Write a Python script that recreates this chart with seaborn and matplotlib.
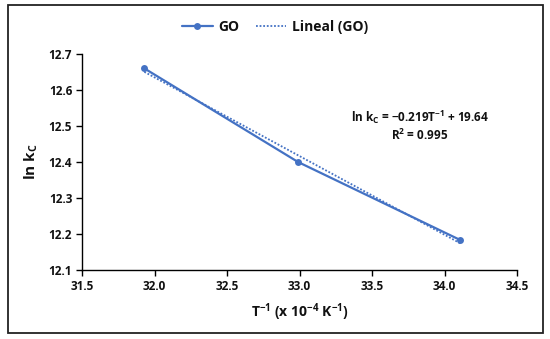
import matplotlib
matplotlib.use("Agg")
import matplotlib.pyplot as plt
from matplotlib.patches import Rectangle
import numpy as np
import seaborn as sns

# data
inv_t = [31.93, 32.99, 34.11]      # T^-1 (x 10^-4 K^-1)
ln_kc = [12.66, 12.40, 12.183]
x_ticks = [31.5, 32.0, 32.5, 33.0, 33.5, 34.0, 34.5]
y_ticks = [12.1, 12.2, 12.3, 12.4, 12.5, 12.6, 12.7]

sns.set_style("white")
plt.rcParams['font.family'] = ['Open Sans', 'DejaVu Sans']
plt.rcParams['font.weight'] = 'bold'
plt.rcParams['mathtext.fontset'] = 'custom'
plt.rcParams['mathtext.rm'] = 'Open Sans'
plt.rcParams['mathtext.bf'] = 'Open Sans:bold'
plt.rcParams['text.color'] = '#111111'
plt.rcParams['axes.labelcolor'] = '#111111'
plt.rcParams['xtick.color'] = '#111111'
plt.rcParams['ytick.color'] = '#111111'

blue = '#4472C4'

fig = plt.figure(figsize=(5.5, 3.39), dpi=100)
ax = fig.add_axes([82 / 550, 1 - 270 / 339, 435 / 550, 216 / 339])

sns.lineplot(x=inv_t, y=ln_kc, ax=ax, color=blue, marker='o', markersize=5,
             markeredgewidth=0, linewidth=1.6, label='GO')

# linear trend line
slope, icpt = np.polyfit(inv_t, ln_kc, 1)
fit_x = np.array([inv_t[0], inv_t[-1]])
sns.lineplot(x=fit_x, y=slope * fit_x + icpt, ax=ax, color=blue,
             linestyle=(0, (1, 1)), linewidth=1.3, label='Lineal (GO)')

ax.set_xlim(31.5, 34.5)
ax.set_ylim(12.1, 12.7)
ax.set_xticks(x_ticks)
ax.set_yticks(y_ticks)
ax.set_xticklabels([f"{v:.1f}" for v in x_ticks], fontweight='bold', fontsize=8.5)
ax.set_yticklabels([f"{v:.1f}" for v in y_ticks], fontweight='bold', fontsize=8.5)
ax.tick_params(axis='both', direction='out', length=4, width=1, color='black',
               left=True, bottom=True, pad=3)
for side in ['top', 'right']:
    ax.spines[side].set_visible(False)
for side in ['left', 'bottom']:
    ax.spines[side].set_color('black')
    ax.spines[side].set_linewidth(1)

ax.set_xlabel(r"T$^{\mathbf{-1}}$ (x 10$^{\mathbf{-4}}$ K$^{\mathbf{-1}}$)",
              fontsize=10, fontweight='bold', labelpad=6)
ax.set_ylabel(r"ln k$_{\mathbf{C}}$", fontsize=11, fontweight='bold', labelpad=6)

ax.text(33.83, 12.50,
        r"ln k$_{\mathbf{C}}$ = $\mathbf{-}$0.219T$^{\mathbf{-1}}$ + 19.64" + "\n"
        + r"R$^{\mathbf{2}}$ = 0.995",
        ha='center', va='center', multialignment='center', linespacing=1.1,
        fontsize=8.5, fontweight='bold')

leg = ax.legend(loc='center', bbox_to_anchor=(275 / 550, 1 - 27 / 339),
                bbox_transform=fig.transFigure, ncol=2, frameon=False,
                prop={'weight': 'bold', 'size': 10}, handlelength=2.2,
                columnspacing=1.2, handletextpad=0.4)

fig.patches.append(Rectangle((8 / 550, 1 - 333 / 339), 535 / 550, 328 / 339,
                             transform=fig.transFigure, fill=False,
                             edgecolor='#222222', linewidth=1.3))

fig.savefig('out.png', dpi=100)
